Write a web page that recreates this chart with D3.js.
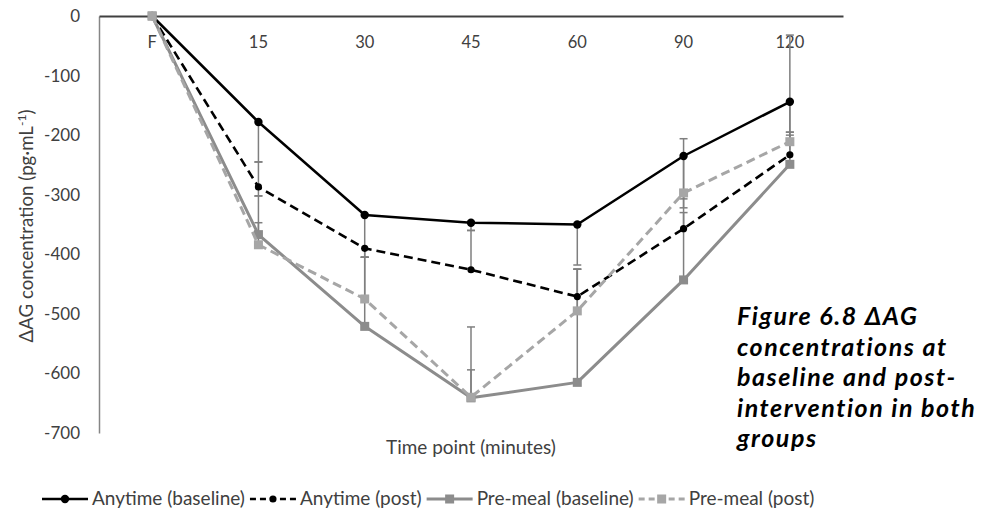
<!DOCTYPE html>
<html><head><meta charset="utf-8">
<script src="https://cdn.jsdelivr.net/npm/d3@7"></script>
<style>
body{margin:0;background:#fff;}
svg{display:block;font-family:Lato,"Open Sans",sans-serif;}
</style></head>
<body><svg id="c" width="1004" height="511"></svg>
<script>
const categories = ["F","15","30","45","60","90","120"];
const yTicks = [0,-100,-200,-300,-400,-500,-600,-700];
const seriesNames = ["Anytime (baseline)","Anytime (post)","Pre-meal (baseline)","Pre-meal (post)"];
const anytimeBaseline = [0,-178,-334,-347,-350,-235,-144];
const anytimePost     = [0,-287,-390,-426,-471,-357,-233];
const premealBaseline = [0,-367,-521,-641,-615,-443,-249];
const premealPost     = [0,-384,-475,-640,-495,-297,-211];
// error bar magnitudes (plus = upward, minus = downward)
const anytimeBaselinePlus  = [0,0,0,0,0,0,0];
const anytimeBaselineMinus = [0,67,71,13,68,72,51];
const anytimePostPlus      = [0,42,0,66,46,27,33];
const anytimePostMinus     = [0,15,15,0,0,0,0];
const premealBaselinePlus  = [0,65,116,47,190,237,217];
const premealBaselineMinus = [0,0,0,0,0,0,0];
const premealPostPlus      = [0,37,70,118,70,0,16];
const premealPostMinus     = [0,0,0,0,0,25,0];
const captionLines = ["Figure 6.8 ΔAG","concentrations at","baseline and post-","intervention in both","groups"];

const FONT = "Lato,'Open Sans',sans-serif";
const series = [
  {name:seriesNames[0], values:anytimeBaseline, plus:anytimeBaselinePlus, minus:anytimeBaselineMinus, color:"#000", width:2.5, dash:null, marker:"circle", msize:4.2},
  {name:seriesNames[1], values:anytimePost, plus:anytimePostPlus, minus:anytimePostMinus, color:"#000", width:2.6, dash:"9,5", marker:"circle", msize:3.6},
  {name:seriesNames[2], values:premealBaseline, plus:premealBaselinePlus, minus:premealBaselineMinus, color:"#8c8c8c", width:3, dash:null, marker:"square", msize:9},
  {name:seriesNames[3], values:premealPost, plus:premealPostPlus, minus:premealPostMinus, color:"#a6a6a6", width:3, dash:"9,5", marker:"square", msize:9}
];

const svg = d3.select("#c");
const x = d3.scaleBand().domain(categories).range([99,843]).paddingInner(0).paddingOuter(0);
const cx = c => x(c) + x.bandwidth()/2;
const y = d3.scaleLinear().domain([-700,0]).range([433,16]);

function fit(sel, base, target){
  sel.attr("font-size", base);
  const w = sel.node().getComputedTextLength();
  sel.attr("font-size", base*target/w);
  return base*target/w;
}

// y axis
const ya = svg.append("g").attr("transform","translate(99,0)")
  .call(d3.axisLeft(y).tickValues(yTicks).tickSize(0).tickPadding(19).tickFormat(d => String(d)));
ya.select(".domain").attr("stroke","#868686").attr("stroke-width",1.5);
ya.selectAll("text").attr("font-size",17).attr("fill","#404040").attr("font-family",FONT);

// x axis (at value 0, labels below)
const xa = svg.append("g").attr("transform",`translate(0,${y(0)})`)
  .call(d3.axisBottom(x).tickSize(0).tickSizeOuter(0).tickPadding(20));
xa.select(".domain").attr("stroke","#404040").attr("stroke-width",1.8);
xa.selectAll("text").attr("font-size",16.5).attr("fill","#404040").attr("font-family",FONT);

// axis titles
const xt = svg.append("text").attr("x",471).attr("y",454).attr("text-anchor","middle")
  .attr("fill","#404040").text("Time point (minutes)");
fit(xt, 16, 170);
const yt = svg.append("text").attr("transform","translate(33,226) rotate(-90)").attr("text-anchor","middle")
  .attr("fill","#404040").attr("font-size",17);
yt.append("tspan").text("ΔAG concentration (pg·mL");
const sup = yt.append("tspan").attr("dy",-7).attr("font-size",11).text("-1");
yt.append("tspan").attr("dy",7).text(")");
{
  const w = yt.node().getComputedTextLength();
  const k = 233 / w;
  yt.attr("font-size", 17*k); sup.attr("font-size", 11*k);
}

// error bars
const eb = svg.append("g").attr("stroke","#7f7f7f").attr("stroke-width",1.5);
series.forEach(s => {
  categories.forEach((c,i) => {
    const v = s.values[i];
    [[s.plus[i],1],[s.minus[i],-1]].forEach(([m,dir]) => {
      if (!m) return;
      const end = v + dir*m;
      eb.append("line").attr("x1",cx(c)).attr("x2",cx(c)).attr("y1",y(v)).attr("y2",y(end));
      eb.append("line").attr("x1",cx(c)-4).attr("x2",cx(c)+4).attr("y1",y(end)).attr("y2",y(end));
    });
  });
});

// lines + markers
const line = d3.line().x((d,i)=>cx(categories[i])).y(d=>y(d));
function drawMarker(g, s, px, py){
  if (s.marker==="circle") g.append("circle").attr("cx",px).attr("cy",py).attr("r",s.msize).attr("fill",s.color);
  else g.append("rect").attr("x",px-s.msize/2).attr("y",py-s.msize/2).attr("width",s.msize).attr("height",s.msize).attr("fill",s.color);
}
series.forEach(s => {
  const g = svg.append("g");
  g.append("path").attr("d",line(s.values)).attr("fill","none").attr("stroke",s.color)
    .attr("stroke-width",s.width).attr("stroke-dasharray",s.dash).attr("stroke-linejoin","round");
  s.values.forEach((v,i)=>drawMarker(g,s,cx(categories[i]),y(v)));
});

// legend
const lg = svg.append("g");
let lx = 42; const ly = 499;
const probe = lg.append("text").text(seriesNames[0]);
const lfs = fit(probe, 16, 153);
probe.remove();
series.forEach(s => {
  const g = lg.append("g");
  g.append("line").attr("x1",lx).attr("x2",lx+46).attr("y1",ly).attr("y2",ly).attr("stroke",s.color)
    .attr("stroke-width",s.width).attr("stroke-dasharray",s.dash ? "6,4" : null);
  drawMarker(g,s,lx+23,ly);
  const t = g.append("text").attr("x",lx+50).attr("y",ly+6).attr("font-size",lfs).attr("fill","#404040").text(s.name);
  lx += 50 + t.node().getComputedTextLength() + 5;
});

// caption: font capped for line spacing, letter-spacing widens to reference width
const cap = svg.append("text").attr("font-weight","bold").attr("font-style","italic")
  .attr("fill","#000").attr("font-family",FONT);
const probe2 = svg.append("text").attr("font-weight","bold").attr("font-style","italic")
  .attr("font-family",FONT).text(captionLines[3]);
const cfs = Math.min(fit(probe2, 20, 239), 25);
probe2.attr("font-size", cfs);
const cw = probe2.node().getComputedTextLength();
const ls = Math.max(0, (239 - cw) / captionLines[3].length);
probe2.remove();
cap.attr("font-size", cfs).attr("letter-spacing", ls);
captionLines.forEach((l,i)=>cap.append("tspan").attr("x",737).attr("y",325+i*30.5).text(l));
</script></body></html>
